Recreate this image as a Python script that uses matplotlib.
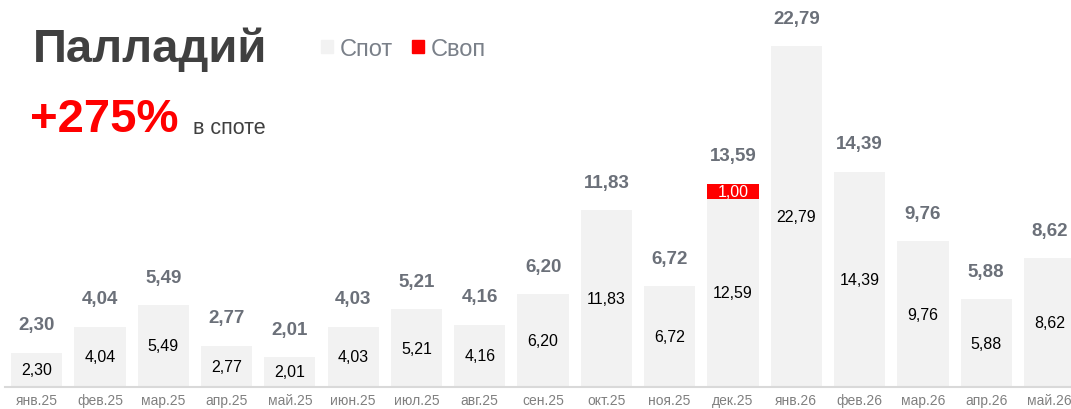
import matplotlib
matplotlib.use('Agg')
import matplotlib.pyplot as plt
from matplotlib.patches import Patch

plt.rcParams['font.family'] = ['Liberation Sans', 'DejaVu Sans']

months = ['янв.25', 'фев.25', 'мар.25', 'апр.25', 'май.25', 'июн.25', 'июл.25', 'авг.25', 'сен.25',
          'окт.25', 'ноя.25', 'дек.25', 'янв.26', 'фев.26', 'мар.26', 'апр.26', 'май.26']
spot = [2.30, 4.04, 5.49, 2.77, 2.01, 4.03, 5.21, 4.16, 6.20,
        11.83, 6.72, 12.59, 22.79, 14.39, 9.76, 5.88, 8.62]
swap = [0, 0, 0, 0, 0, 0, 0, 0, 0,
        0, 0, 1.00, 0, 0, 0, 0, 0]

SPOT_COLOR = '#f2f2f2'
SWAP_COLOR = '#ff0000'
TOTAL_COLOR = '#6b7079'


def fmt(v):
    return f"{v:.2f}".replace('.', ',')


fig = plt.figure(figsize=(10.71, 4.10), dpi=100)
# axes: baseline at y=388 px, left edge at x=5 px
ax = fig.add_axes([5 / 1071, 22 / 410, 1066 / 1071, 388 / 410])

x = list(range(len(months)))
width = 0.81
ax.bar(x, spot, width=width, color=SPOT_COLOR, zorder=2)
ax.bar(x, swap, width=width, bottom=spot, color=SWAP_COLOR, zorder=2)

for i in x:
    s = spot[i]
    w = swap[i]
    ax.text(i, s / 2, fmt(s), ha='center', va='center', fontsize=11.5, color='black', zorder=3)
    if w > 0:
        ax.text(i, s + w / 2, fmt(w), ha='center', va='center', fontsize=11.5, color='white', zorder=3)
    total = s + w
    ax.annotate(fmt(total), (i, total), xytext=(0, 20), textcoords='offset points',
                ha='center', va='center', fontsize=13.5, fontweight='bold', color=TOTAL_COLOR)

ax.set_xlim(-0.5, 16.34)
ax.set_ylim(0, 25.94)
ax.set_xticks(x)
# labels sit right at the bottom edge, keep them just inside the figure
ax.set_xticklabels(months, fontsize=10, color='#808080')
ax.tick_params(axis='x', length=0, pad=4.5)
ax.set_yticks([])
for side in ['top', 'right', 'left']:
    ax.spines[side].set_visible(False)
ax.spines['bottom'].set_color('#d9d9d9')
ax.spines['bottom'].set_linewidth(1.5)
ax.patch.set_alpha(0)

# title block
fig.text(33 / 1071, 1 - 50 / 410, 'Палладий', fontsize=34, fontweight='bold', color='#404040',
         ha='left', va='center')
fig.text(30 / 1071, 1 - 120 / 410, '+275%', fontsize=34, fontweight='bold', color=SWAP_COLOR,
         ha='left', va='center')
fig.text(193 / 1071, 1 - 134 / 410, 'в споте', fontsize=15.5, color='#404040',
         ha='left', va='baseline')

handles = [Patch(color=SPOT_COLOR, label='Спот'), Patch(color=SWAP_COLOR, label='Своп')]
fig.legend(handles=handles, loc='center left', bbox_to_anchor=(321 / 1071, 1 - 50 / 410),
           ncol=2, frameon=False, fontsize=17, labelcolor='#7a8089',
           handlelength=0.5, handleheight=0.5, handletextpad=0.3, columnspacing=0.8,
           borderpad=0, borderaxespad=0)

fig.savefig('out.png', dpi=100)
